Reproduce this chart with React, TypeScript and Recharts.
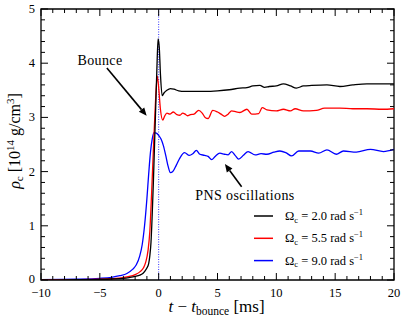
import { Legend, Line, LineChart, ReferenceArea, ReferenceLine, XAxis, YAxis } from 'recharts'

// time after bounce [ms] and central density [10^14 g/cm^3] for each rotation rate
const tSlow = [-10, -7, -5, -4, -3, -2.5, -2, -1.6, -1.3, -1.0, -0.85, -0.75, -0.65, -0.55, -0.45, -0.35, -0.25, -0.15, -0.05, 0.05, 0.15, 0.3, 0.45, 0.7, 1.0, 1.3, 1.7, 2.2, 3, 4, 5, 6, 6.9, 7.5, 8.0, 8.6, 9.0, 9.4, 10.0, 10.6, 11.2, 11.7, 12.3, 13.0, 14.3, 15.4, 16.5, 17.7, 19.0, 20]
const rhoSlow = [0.002, 0.005, 0.01, 0.018, 0.03, 0.045, 0.065, 0.09, 0.13, 0.22, 0.3, 0.45, 0.7, 1.2, 1.8, 2.5, 3.2, 3.9, 4.45, 4.3, 3.8, 3.4, 3.45, 3.5, 3.53, 3.52, 3.49, 3.48, 3.48, 3.48, 3.49, 3.51, 3.54, 3.55, 3.58, 3.59, 3.555, 3.57, 3.58, 3.62, 3.58, 3.54, 3.58, 3.59, 3.6, 3.57, 3.6, 3.62, 3.62, 3.62]

const tMid = [-10, -7, -5, -4, -3, -2.5, -2, -1.6, -1.3, -1.1, -0.9, -0.75, -0.6, -0.45, -0.3, -0.12, 0.0, 0.15, 0.35, 0.5, 0.7, 0.95, 1.25, 1.55, 1.8, 2.05, 2.25, 2.45, 2.7, 3.0, 3.4, 3.7, 3.95, 4.2, 4.6, 5.0, 5.3, 5.6, 5.9, 6.2, 6.6, 6.9, 7.5, 7.9, 8.5, 8.8, 9.2, 10.0, 10.6, 11.2, 11.6, 12.3, 13.4, 14.1, 15.4, 16.5, 17.7, 19, 20]
const rhoMid = [0.003, 0.007, 0.015, 0.025, 0.045, 0.065, 0.1, 0.15, 0.22, 0.33, 0.55, 0.9, 1.6, 2.4, 3.15, 3.76, 3.55, 3.15, 2.95, 3.02, 3.08, 3.06, 3.1, 3.05, 3.04, 3.08, 3.06, 3.03, 3.05, 3.06, 3.13, 3.08, 3.0, 2.98, 3.13, 3.1, 3.06, 3.02, 3.06, 3.12, 3.1, 3.09, 3.15, 3.06, 3.07, 3.18, 3.14, 3.12, 3.15, 3.12, 3.16, 3.12, 3.13, 3.17, 3.17, 3.16, 3.16, 3.15, 3.16]

const tFast = [-10, -7, -5, -4, -3.3, -2.7, -2.2, -1.9, -1.6, -1.4, -1.2, -1.0, -0.85, -0.7, -0.55, -0.4, -0.2, 0.0, 0.2, 0.4, 0.6, 0.8, 1.0, 1.2, 1.5, 1.8, 2.2, 2.6, 2.9, 3.2, 3.5, 3.9, 4.2, 4.5, 4.8, 5.2, 5.6, 5.9, 6.2, 6.5, 6.8, 7.2, 7.6, 8.2, 8.7, 9.2, 9.8, 10.3, 10.8, 11.3, 11.9, 12.9, 13.6, 14.3, 15.1, 15.7, 16.8, 18.0, 19.1, 20]
const rhoFast = [0.008, 0.015, 0.03, 0.05, 0.08, 0.12, 0.2, 0.28, 0.45, 0.65, 1.0, 1.5, 1.95, 2.35, 2.6, 2.72, 2.71, 2.67, 2.6, 2.48, 2.3, 2.1, 1.98, 2.0, 2.12, 2.25, 2.35, 2.3, 2.33, 2.39, 2.32, 2.3, 2.28, 2.22, 2.28, 2.34, 2.32, 2.31, 2.37, 2.3, 2.23, 2.3, 2.37, 2.31, 2.33, 2.32, 2.36, 2.38, 2.35, 2.29, 2.38, 2.38, 2.34, 2.4, 2.32, 2.38, 2.36, 2.41, 2.37, 2.41]

const omegaValues = ['2.0', '5.5', '9.0']
const seriesColors = ['#000000', '#ff0000', '#0000ff']

const xMajor = [-10, -5, 0, 5, 10, 15, 20]
const yMajor = [0, 1, 2, 3, 4, 5]
const xTicks = Array.from({ length: 31 }, (_, i) => i - 10)
const yTicks = Array.from({ length: 26 }, (_, i) => Math.round(i * 2) / 10)

const W = 407
const H = 326
const LEFT = 41
const RIGHT = 394
const TOP = 9
const BOTTOM = 280
const serif = { fontFamily: "'Liberation Serif', 'Times New Roman', serif" }

const zip = (t: number[], r: number[]) => t.map((x, i) => ({ t: x, rho: r[i] }))

const fmt = (v: number) => (v < 0 ? '\u2212' + Math.abs(v) : String(v))

function XTick(props: any) {
  const { x, payload } = props
  const v = payload.value
  const major = xMajor.includes(v)
  const len = major ? 7 : 4
  return (
    <g>
      <line x1={x} x2={x} y1={BOTTOM} y2={BOTTOM - len} stroke="#000" strokeWidth={1} />
      <line x1={x} x2={x} y1={TOP} y2={TOP + len} stroke="#000" strokeWidth={1} />
      {major && (
        <text x={x} y={296.5} textAnchor="middle" style={serif} fontSize={12.5} fill="#000">
          {fmt(v)}
        </text>
      )}
    </g>
  )
}

function YTick(props: any) {
  const { y, payload } = props
  const v = payload.value
  const major = yMajor.includes(v)
  const len = major ? 7 : 4
  return (
    <g>
      <line x1={LEFT} x2={LEFT + len} y1={y} y2={y} stroke="#000" strokeWidth={1} />
      <line x1={RIGHT} x2={RIGHT - len} y1={y} y2={y} stroke="#000" strokeWidth={1} />
      {major && (
        <text x={35} y={v === 0 ? y + 2.5 : y + 4} textAnchor="end" style={serif} fontSize={12.5} fill="#000">
          {fmt(v)}
        </text>
      )}
    </g>
  )
}

function Arrow(props: any) {
  const { x1, y1, x2, y2 } = props
  const a = Math.atan2(y2 - y1, x2 - x1)
  const L = 8
  const w = 3.5
  const bx = x2 - L * Math.cos(a)
  const by = y2 - L * Math.sin(a)
  const px = -Math.sin(a) * w
  const py = Math.cos(a) * w
  return (
    <g>
      <line x1={x1} y1={y1} x2={bx} y2={by} stroke="#000" strokeWidth={1.6} />
      <polygon points={`${x2},${y2} ${bx + px},${by + py} ${bx - px},${by - py}`} fill="#000" />
    </g>
  )
}

function LegendBox(props: any) {
  const items = [...(props.payload || [])].sort(
    (a: any, b: any) => omegaValues.indexOf(a.value) - omegaValues.indexOf(b.value),
  )
  return (
    <svg width={150} height={70} style={{ display: 'block' }}>
      {items.map((it: any, i: number) => {
        const y = 8 + i * 22.3
        return (
          <g key={it.value}>
            <line x1={4} x2={23} y1={y} y2={y} stroke={it.color} strokeWidth={1.5} />
            <text x={35} y={y + 4} style={serif} fontSize={12.5} fill="#000">
              {'\u03A9'}
              <tspan dy={2.5} fontSize={8.5}>c</tspan>
              <tspan dy={-2.5}>{` = ${it.value} rad s`}</tspan>
              <tspan dy={-5} fontSize={8.5}>{'\u22121'}</tspan>
            </text>
          </g>
        )
      })}
    </svg>
  )
}

export default function App() {
  return (
    <div style={{ position: 'absolute', left: 0, top: 0, width: W, height: H, background: '#fff' }}>
      <LineChart width={W} height={H} margin={{ top: TOP, right: W - RIGHT, left: 0, bottom: 0 }}>
        <XAxis
          type="number"
          dataKey="t"
          domain={[-10, 20]}
          ticks={xTicks}
          interval={0}
          tick={<XTick />}
          tickLine={false}
          tickSize={0}
          axisLine={false}
          height={H - BOTTOM}
          allowDataOverflow
        />
        <YAxis
          type="number"
          dataKey="rho"
          domain={[0, 5]}
          ticks={yTicks}
          interval={0}
          tick={<YTick />}
          tickLine={false}
          tickSize={0}
          axisLine={false}
          width={LEFT}
          allowDataOverflow
        />
        <ReferenceLine x={0} stroke="#0000ff" strokeWidth={0.8} strokeDasharray="1 1.5" />
        <Line data={zip(tFast, rhoFast)} dataKey="rho" name={omegaValues[2]} type="monotone" stroke={seriesColors[2]} strokeWidth={1.3} dot={false} isAnimationActive={false} />
        <Line data={zip(tMid, rhoMid)} dataKey="rho" name={omegaValues[1]} type="monotone" stroke={seriesColors[1]} strokeWidth={1.3} dot={false} isAnimationActive={false} />
        <Line data={zip(tSlow, rhoSlow)} dataKey="rho" name={omegaValues[0]} type="monotone" stroke={seriesColors[0]} strokeWidth={1.3} dot={false} isAnimationActive={false} />
        <ReferenceArea x1={-10} x2={20} y1={0} y2={5} fill="none" stroke="#000" strokeWidth={1.3} fillOpacity={0} />
        <ReferenceLine segment={[{ x: -4.4, y: 3.91 }, { x: -1.02, y: 3.03 }]} shape={<Arrow />} />
        <ReferenceLine segment={[{ x: 7.05, y: 1.72 }, { x: 5.63, y: 2.14 }]} shape={<Arrow />} />
        <Legend
          layout="vertical"
          align="center"
          verticalAlign="middle"
          wrapperStyle={{ left: 250, top: 208, width: 150, height: 70 }}
          content={<LegendBox />}
        />
        <text x={100} y={65} textAnchor="middle" style={serif} fontSize={14} letterSpacing={0.4} fill="#000">
          Bounce
        </text>
        <text x={245} y={200} textAnchor="middle" style={serif} fontSize={14} letterSpacing={0.4} fill="#000">
          PNS oscillations
        </text>
        <text x={216.5} y={312} textAnchor="middle" style={serif} fontSize={17} fill="#000">
          <tspan fontStyle="italic">t</tspan>
          <tspan>{' \u2212 '}</tspan>
          <tspan fontStyle="italic">t</tspan>
          <tspan dy={3} fontSize={11.5}>bounce</tspan>
          <tspan dy={-3}>{' [ms]'}</tspan>
        </text>
        <text x={20} y={141} textAnchor="middle" transform="rotate(-90 20 141)" style={serif} fontSize={16} fill="#000">
          <tspan fontStyle="italic">{'\u03C1'}</tspan>
          <tspan dy={3} fontSize={11}>c</tspan>
          <tspan dy={-3}>{' [10'}</tspan>
          <tspan dy={-6} fontSize={11}>14</tspan>
          <tspan dy={6}>{' g/cm'}</tspan>
          <tspan dy={-6} fontSize={11}>3</tspan>
          <tspan dy={6}>]</tspan>
        </text>
      </LineChart>
    </div>
  )
}
